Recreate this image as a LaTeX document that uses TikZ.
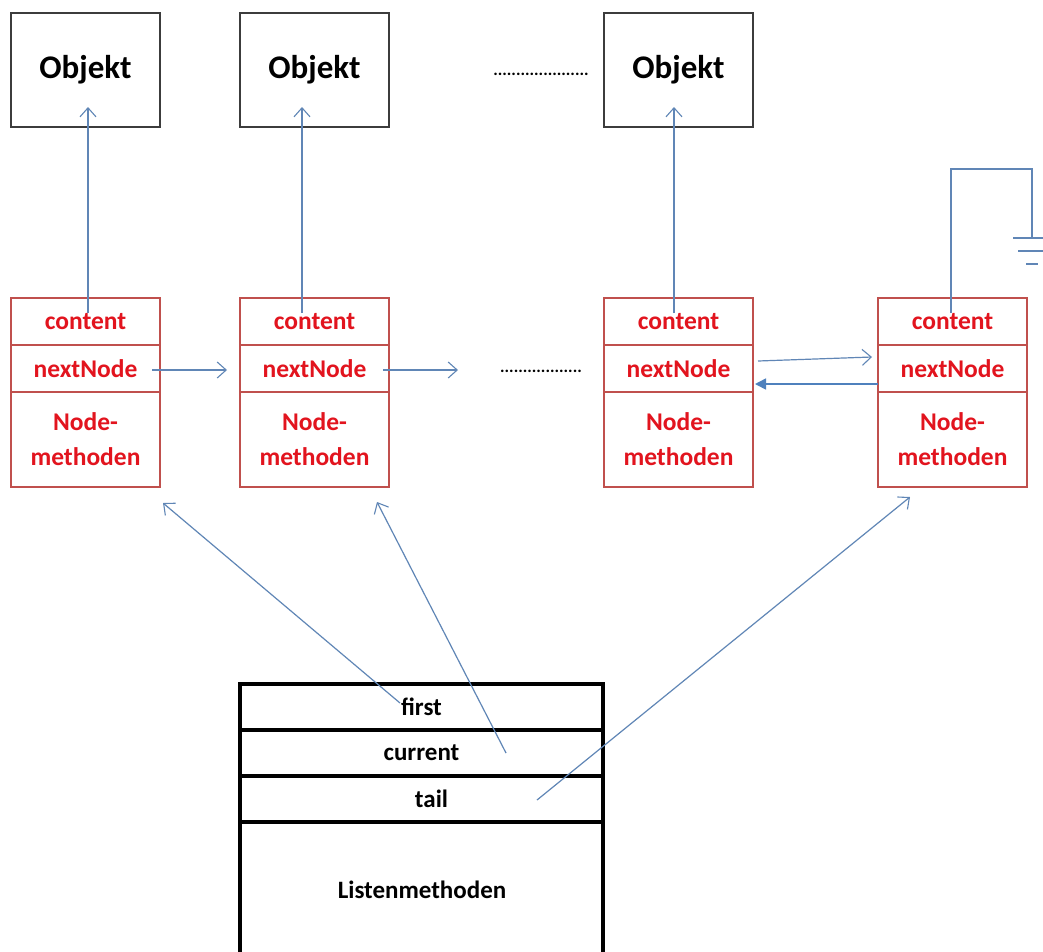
\documentclass[tikz,border=0pt]{standalone}
\usepackage{fontspec}
\setmainfont{Carlito}
\usetikzlibrary{arrows.meta}

\definecolor{ptrblue}{RGB}{96,134,182}
\definecolor{backblue}{RGB}{79,129,189}
\definecolor{cellred}{RGB}{192,80,77}
\definecolor{txtred}{RGB}{226,20,30}
\definecolor{objline}{RGB}{60,60,60}

\tikzset{
  objbox/.style={draw=objline, line width=1.6pt, minimum width=149pt, minimum height=114pt,
    inner sep=0pt, outer sep=0pt, font=\bfseries\fontsize{33}{38}\selectfont},
  nodecell/.style={draw=cellred, line width=1.3pt, minimum width=149pt, inner sep=0pt,
    outer sep=0pt, text=txtred, align=center, font=\bfseries\fontsize{25.5}{35}\selectfont},
  listcell/.style={draw=black, line width=3.5pt, minimum width=363pt, inner sep=0pt,
    outer sep=0pt, font=\bfseries\fontsize{25}{30}\selectfont},
  ptr/.style={draw=ptrblue, line width=1.2pt, -{Straight Barb[length=9pt,width=16pt,line width=1.1pt]}},
  backptr/.style={draw=backblue, line width=1.6pt, -{Triangle[length=11pt,width=11pt]}},
  wire/.style={draw=ptrblue, line width=1.2pt},
  dotrow/.style={inner sep=0pt, font=\bfseries\fontsize{17}{20}\selectfont},
}

\begin{document}
\begin{tikzpicture}[x=1pt,y=-1pt]
\useasboundingbox[fill=white] (0,0) rectangle (1043,951);

% referenced objects
\node[objbox] (o1) at (85.5,70) {Objekt};
\node[objbox] (o2) at (314.5,70) {Objekt};
\node[objbox] (o3) at (678.5,70) {Objekt};
\node[dotrow] (odots) at (541,74) {.....................};

% list nodes: content / nextNode / methods
\foreach \i/\x in {1/85.5, 2/314.5, 3/678.5, 4/952.5} {
  \node[nodecell, minimum height=47pt] (c\i) at (\x,321.5) {content};
  \node[nodecell, minimum height=47pt] (n\i) at (\x,368.5) {nextNode};
  \node[nodecell, minimum height=95pt] (m\i) at (\x,439.5) {Node-\\methoden};
}
\node[dotrow] (ndots) at (541,371) {..................};
\coordinate (ndotsin) at (458,370);

% content references
\draw[ptr] ([xshift=2.5pt,yshift=-15pt]c1.north) -- ([xshift=2.5pt,yshift=20pt]o1.south);
\draw[ptr] ([xshift=-12.5pt,yshift=-15pt]c2.north) -- ([xshift=-12.5pt,yshift=20pt]o2.south);
\draw[ptr] ([xshift=-4.5pt,yshift=-15pt]c3.north) -- ([xshift=-4.5pt,yshift=20pt]o3.south);

% last node points to null
\coordinate (g1) at (951,169);
\coordinate (g2) at (1032,169);
\coordinate (gnd) at (1032,238);
\draw[wire] ([xshift=-1.5pt,yshift=-15pt]c4.north) -- (g1) -- (g2) -- (gnd);
\draw[wire] ([xshift=-19pt]gnd) -- ([xshift=19pt]gnd);
\draw[wire] ([xshift=-14pt,yshift=-13pt]gnd) -- ([xshift=14pt,yshift=-13pt]gnd);
\draw[wire] ([xshift=-6pt,yshift=-26pt]gnd) -- ([xshift=6pt,yshift=-26pt]gnd);

% nextNode links
\draw[ptr] ([xshift=-8pt,yshift=-1.5pt]n1.east) -- ([xshift=-13pt,yshift=-1.5pt]n2.west);
\draw[ptr] ([xshift=-6pt,yshift=-1.5pt]n2.east) -- (ndotsin);
\draw[ptr] ([xshift=5pt,yshift=7.5pt]n3.east) -- ([xshift=-6pt,yshift=11.5pt]n4.west);
\draw[backptr] ([yshift=-15.5pt]n4.west) -- ([xshift=2pt,yshift=-15.5pt]n3.east);

% list object
\node[listcell, minimum height=46pt] (lf) at (421.5,707) {first};
\node[listcell, minimum height=46pt] (lc) at (421.5,753) {current};
\node[listcell, minimum height=46pt] (lt) at (421.5,799) {\hspace*{20pt}tail};
\node[listcell, minimum height=180pt] (lm) at (421.5,912) {};
\node[font=\bfseries\fontsize{25}{30}\selectfont, inner sep=0pt] (lmtext) at (422,890) {Listenmethoden};

% list references
\draw[ptr] ([xshift=-21.5pt,yshift=4pt]lf.center) -- ([xshift=77.5pt,yshift=-16pt]m1.south);
\draw[ptr] ([xshift=84.5pt]lc.center) -- ([xshift=62.5pt,yshift=-15pt]m2.south);
\draw[ptr] ([xshift=115.5pt,yshift=-1pt]lt.center) -- ([xshift=-42.5pt,yshift=-10pt]m4.south);
\end{tikzpicture}
\end{document}
